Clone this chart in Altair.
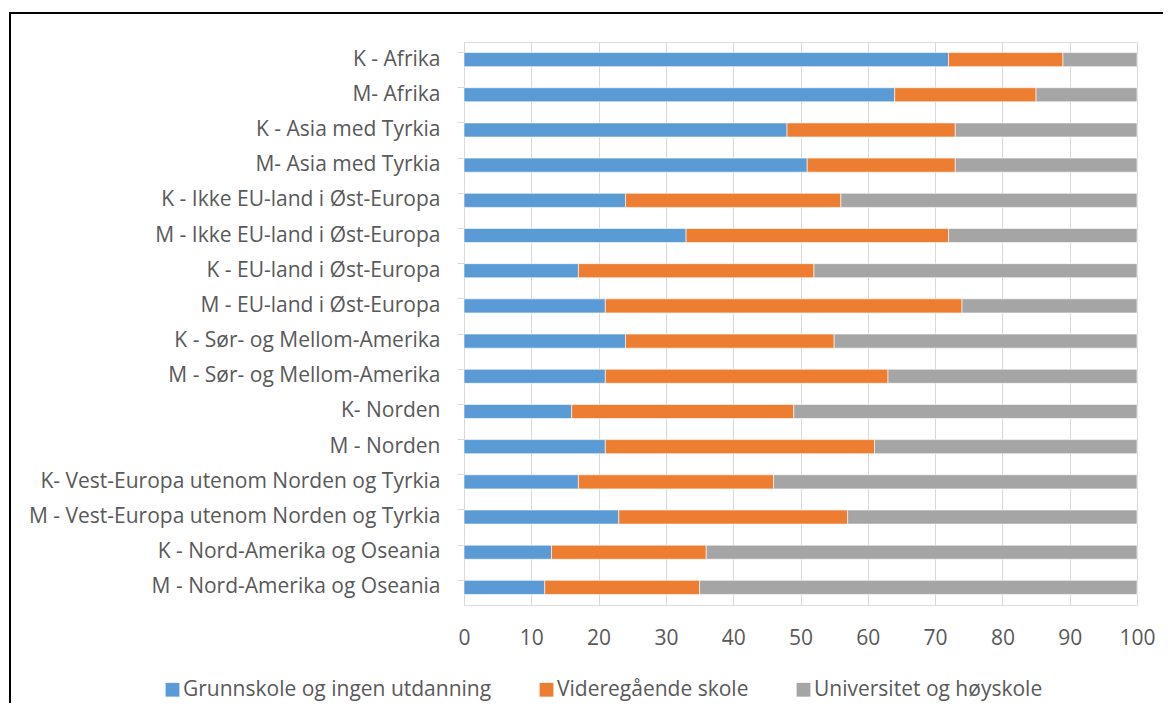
import altair as alt
import pandas as pd

categories = [
    "K - Afrika", "M- Afrika", "K - Asia med Tyrkia", "M- Asia med Tyrkia",
    "K - Ikke EU-land i Øst-Europa", "M - Ikke EU-land i Øst-Europa",
    "K - EU-land i Øst-Europa", "M - EU-land i Øst-Europa",
    "K - Sør- og Mellom-Amerika", "M - Sør- og Mellom-Amerika",
    "K- Norden", "M - Norden",
    "K- Vest-Europa utenom Norden og Tyrkia", "M - Vest-Europa utenom Norden og Tyrkia",
    "K - Nord-Amerika og Oseania", "M - Nord-Amerika og Oseania",
]
series = ["Grunnskole og ingen utdanning", "Videregående skole", "Universitet og høyskole"]
grunnskole = [72, 64, 48, 51, 24, 33, 17, 21, 24, 21, 16, 21, 17, 23, 13, 12]
videregaende = [17, 21, 25, 22, 32, 39, 35, 53, 31, 42, 33, 40, 29, 34, 23, 23]
universitet = [11, 15, 27, 27, 44, 28, 48, 26, 45, 37, 51, 39, 54, 43, 64, 65]
colors = ["#5B9BD5", "#ED7D31", "#A5A5A5"]

rows = []
for i, c in enumerate(categories):
    for j, (s, vals) in enumerate(zip(series, [grunnskole, videregaende, universitet])):
        rows.append({"kategori": c, "serie": s, "verdi": vals[i], "rekkefolge": j})
df = pd.DataFrame(rows)

FONT = "Open Sans"
FS = 21
LABEL_COLOR = "#595959"
GRID = "#D9D9D9"

bars = alt.Chart(df).mark_bar(stroke="white", strokeWidth=0.6).encode(
    y=alt.Y(
        "kategori:N",
        sort=categories,
        title=None,
        scale=alt.Scale(paddingInner=0.6, paddingOuter=0.3),
        axis=alt.Axis(
            labelFont=FONT, labelFontSize=FS, labelColor=LABEL_COLOR,
            labelLimit=600, labelPadding=17, tickSize=7, tickColor=GRID,
            domainColor=GRID, domainWidth=1, bandPosition=0, grid=False,
        ),
    ),
    x=alt.X(
        "verdi:Q",
        stack="zero",
        title=None,
        scale=alt.Scale(domain=[0, 100], nice=False),
        axis=alt.Axis(
            values=list(range(0, 101, 10)), labelFont=FONT, labelFontSize=FS,
            labelColor=LABEL_COLOR, labelPadding=22, ticks=False, domain=False,
            grid=True, gridColor=GRID, gridWidth=1, labelFlush=False,
        ),
    ),
    color=alt.Color(
        "serie:N",
        sort=series,
        scale=alt.Scale(domain=series, range=colors),
        legend=alt.Legend(
            title=None, orient="none", direction="horizontal",
            legendX=-302, legendY=637, symbolType="square", symbolSize=190,
            symbolStrokeWidth=0, labelFont=FONT, labelFontSize=FS,
            labelColor=LABEL_COLOR, labelLimit=500, labelOffset=0,
            columnPadding=44,
        ),
    ),
    order=alt.Order("rekkefolge:Q", sort="ascending"),
)

frame_df = pd.DataFrame({"a": [0]})
top_line = alt.Chart(frame_df).mark_rule(color="black", strokeWidth=2).encode(
    x=alt.value(-455), x2=alt.value(699), y=alt.value(-29), y2=alt.value(-29)
)
left_line = alt.Chart(frame_df).mark_rule(color="black", strokeWidth=2).encode(
    x=alt.value(-454), x2=alt.value(-454), y=alt.value(-30), y2=alt.value(662)
)

chart = alt.layer(top_line, left_line, bars).properties(
    width=673, height=563,
    padding={"left": 456, "top": 34, "right": 26, "bottom": 98},
    autosize=alt.AutoSizeParams(type="none"),
).configure_view(stroke=None).configure(background="white")

chart.save("out.html", embed_options={"renderer": "svg", "actions": False})
